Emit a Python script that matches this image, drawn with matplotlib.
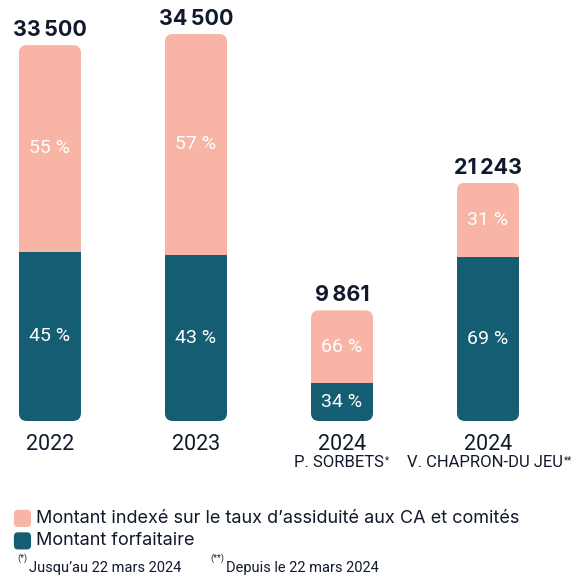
import matplotlib
matplotlib.use('Agg')
import matplotlib.pyplot as plt
from matplotlib import font_manager
from matplotlib.patches import FancyBboxPatch, Patch
from matplotlib.legend_handler import HandlerPatch

# données
years = ['2022', '2023', '2024', '2024']
sub_labels = ['', '', 'P. SORBETS', 'V. CHAPRON-DU JEU']
sub_marks = ['', '', '*', '**']
totals = [33500, 34500, 9861, 21243]
pct_fixed = [45, 43, 34, 69]
pct_indexed = [55, 57, 66, 31]
legend_labels = ['Montant indexé sur le taux d’assiduité aux CA et comités', 'Montant forfaitaire']
footnotes = ['Jusqu’au 22 mars 2024', 'Depuis le 22 mars 2024']

SALMON = '#F8B4A4'
TEAL = '#155D73'
DARK = '#101A2C'

names = {f.name for f in font_manager.fontManager.ttflist}
narrow = 'Liberation Sans Narrow' if 'Liberation Sans Narrow' in names else 'Roboto'

fixed = [t * p / 100 for t, p in zip(totals, pct_fixed)]
indexed = [t - f for t, f in zip(totals, fixed)]

fig = plt.figure(figsize=(5.79, 5.76), dpi=100)
ax = fig.add_axes([0, 0, 1, 1])
ax.set_xlim(-0.342, 3.623)
ax.set_ylim(-13815, 37522)
ax.axis('off')

x = list(range(len(years)))
width = 0.425
bars_f = ax.bar(x, fixed, width, color=TEAL, linewidth=0)
bars_i = ax.bar(x, indexed, width, bottom=fixed, color=SALMON, linewidth=0)

renderer = fig.canvas.get_renderer()
for i in x:
    clip = FancyBboxPatch((i - width / 2, 0), width, totals[i],
                          boxstyle='round,pad=0,rounding_size=0.055',
                          mutation_aspect=12960, transform=ax.transData,
                          facecolor='none', edgecolor='none')
    ax.add_patch(clip)
    bars_f[i].set_clip_path(clip)
    bars_i[i].set_clip_path(clip)

    ax.text(i, fixed[i] / 2, f'{pct_fixed[i]} %', ha='center', va='center',
            color='white', fontsize=14, family='Roboto')
    ax.text(i, fixed[i] + indexed[i] / 2, f'{pct_indexed[i]} %', ha='center', va='center',
            color='white', fontsize=14, family='Roboto')

    lbl = f'{totals[i]:,}'.replace(',', '\u202f')
    ax.annotate(lbl, (i, totals[i]), xytext=(0, 6.5), textcoords='offset points',
                ha='center', va='baseline', fontsize=15.5, fontweight='bold',
                family=['Inter', 'DejaVu Sans'], color=DARK)

    ax.annotate(years[i], (i, 0), xytext=(0, -21), textcoords='offset points',
                ha='center', va='baseline', fontsize=15.5, family='Roboto', color=DARK)
    if sub_labels[i]:
        t = ax.annotate(sub_labels[i], (i, 0), xytext=(-2, -33), textcoords='offset points',
                        ha='center', va='baseline', fontsize=12, family=narrow, color=DARK)
        bb = t.get_window_extent(renderer)
        ax.annotate(sub_marks[i], (bb.x1 + 0.5, bb.y1 - 1), xycoords='figure pixels',
                    ha='left', va='top', fontsize=7, family=narrow, color=DARK)


class RoundHandler(HandlerPatch):
    def create_artists(self, legend, orig_handle, xdescent, ydescent, width, height,
                       fontsize, trans):
        p = FancyBboxPatch((-xdescent, -ydescent - 2), width, width,
                           boxstyle='round,pad=0,rounding_size=3',
                           facecolor=orig_handle.get_facecolor(), edgecolor='none',
                           transform=trans)
        return [p]


handles = [Patch(color=SALMON), Patch(color=TEAL)]
fig.legend(handles, legend_labels, loc='upper left', bbox_to_anchor=(0.024, 0.117),
           frameon=False, prop={'family': 'Inter', 'size': 13},
           handlelength=0.95, handleheight=0.95, handletextpad=0.3,
           labelspacing=0.25, borderpad=0, borderaxespad=0,
           handler_map={Patch: RoundHandler()}, labelcolor=DARK)

fig.text(17 / 579, 1 - 561 / 576, '(*)', fontsize=6.5, family='Roboto', color=DARK, va='baseline')
fig.text(29 / 579, 1 - 572 / 576, footnotes[0], fontsize=10.5, family='Roboto', color=DARK, va='baseline')
fig.text(210 / 579, 1 - 561 / 576, '(**)', fontsize=6.5, family='Roboto', color=DARK, va='baseline')
fig.text(226 / 579, 1 - 572 / 576, footnotes[1], fontsize=10.5, family='Roboto', color=DARK, va='baseline')

fig.savefig('out.png', dpi=100)
